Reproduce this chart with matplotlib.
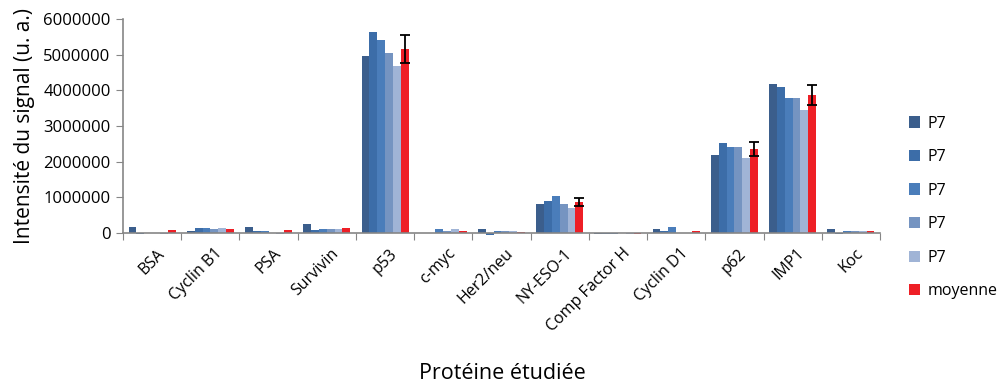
import numpy as np
import matplotlib.pyplot as plt
import matplotlib.transforms as mtransforms

# data (values in signal units)
proteins = ['BSA', 'Cyclin B1', 'PSA', 'Survivin', 'p53', 'c-myc', 'Her2/neu',
            'NY-ESO-1', 'Comp Factor H', 'Cyclin D1', 'p62', 'IMP1', 'Koc']

p7_a = [180000, 60000, 180000, 250000, 4960000, 0, 100000, 810000, -20000, 100000, 2190000, 4170000, 100000]
p7_b = [-40000, 140000, 60000, 70000, 5630000, 0, -50000, 910000, -30000, 60000, 2530000, 4100000, -40000]
p7_c = [0, 140000, 60000, 100000, 5410000, 100000, 60000, 1040000, -30000, 180000, 2400000, 3780000, 60000]
p7_d = [0, 100000, 0, 100000, 5040000, 60000, 60000, 810000, -10000, 0, 2400000, 3780000, 60000]
p7_e = [-20000, 140000, -20000, 100000, 4690000, 100000, 60000, 700000, -20000, 0, 2090000, 3450000, 60000]
moyenne = [70000, 110000, 70000, 140000, 5160000, 60000, 20000, 870000, -30000, 60000, 2350000, 3870000, 60000]
# only the error bars that can be seen on the chart
moyenne_err = [np.nan, np.nan, np.nan, np.nan, 390000, np.nan, np.nan, 120000, np.nan, np.nan, 200000, 290000, np.nan]

series = [p7_a, p7_b, p7_c, p7_d, p7_e, moyenne]
labels = ['P7', 'P7', 'P7', 'P7', 'P7', 'moyenne']
colors = ['#3b5e8c', '#3c6da8', '#4a7dba', '#7594c1', '#a0b4d6', '#ee1f26']

plt.rcParams['font.family'] = ['Open Sans', 'DejaVu Sans']

fig = plt.figure(figsize=(9.97, 3.87), dpi=100)
ax = fig.add_axes([0.1234, 0.398, 0.7592, 0.553])

x = np.arange(len(proteins))
w = 0.1346
for j, (vals, lab, c) in enumerate(zip(series, labels, colors)):
    pos = x + (j - 2.5) * w
    if lab == 'moyenne':
        ax.bar(pos, vals, w, color=c, label=lab, clip_on=False,
               yerr=moyenne_err, error_kw=dict(ecolor='black', capsize=3.5, elinewidth=1.3, capthick=1.3))
    else:
        ax.bar(pos, vals, w, color=c, label=lab, clip_on=False)

ax.set_xlim(-0.5, len(proteins) - 0.5)
ax.set_ylim(0, 6000000)
ax.set_yticks(np.arange(0, 6000001, 1000000))
ax.set_yticklabels([str(v) for v in range(0, 6000001, 1000000)], fontsize=12)

ax.set_xticks(np.arange(len(proteins) + 1) - 0.5)
ax.set_xticklabels([])
ax.set_xticks(x, minor=True)
ax.set_xticklabels(proteins, minor=True, rotation=45, ha='right', rotation_mode='anchor', fontsize=11.5)
ax.tick_params(axis='x', which='minor', length=0, pad=9)
ax.tick_params(axis='x', which='major', length=5, color='#868686', direction='out')
ax.tick_params(axis='y', length=5, color='#868686', direction='out', pad=4)

# nudge category labels a little to the right
shift = mtransforms.ScaledTranslation(4 / 100, 0, fig.dpi_scale_trans)
for t in ax.get_xticklabels(minor=True):
    t.set_transform(t.get_transform() + shift)

for s in ['top', 'right']:
    ax.spines[s].set_visible(False)
for s in ['left', 'bottom']:
    ax.spines[s].set_color('#868686')
    ax.spines[s].set_linewidth(1.2)

ax.set_ylabel('Intensité du signal (u. a.)', fontsize=15, labelpad=6)
fig.text(0.5035, 0.02, 'Protéine étudiée', ha='center', fontsize=15.5)

ax.legend(loc='center left', bbox_to_anchor=(0.897, 0.464), bbox_transform=fig.transFigure,
          frameon=False, fontsize=11.5, labelspacing=1.1, handlelength=0.7, handleheight=0.7,
          handletextpad=0.5)

fig.savefig('out.png', dpi=100)
